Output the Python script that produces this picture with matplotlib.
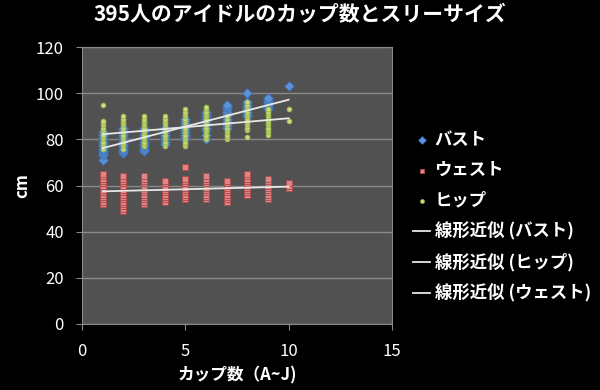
import numpy as np
import matplotlib.pyplot as plt

plt.rcParams['font.family'] = ['Noto Sans CJK JP', 'DejaVu Sans']

title = "395人のアイドルのカップ数とスリーサイズ"

# values per cup (1 = A ... 10 = J)
bust_by_cup = {
    1: [71, 73, 74, 75, 76, 77, 78, 79, 80, 81, 82, 83],
    2: [74, 75, 76, 77, 78, 79, 80, 81, 82, 83, 84, 85],
    3: [75, 76, 77, 78, 79, 80, 81, 82, 83, 84, 85],
    4: [78, 79, 80, 81, 82, 83, 84, 85],
    5: [80, 81, 82, 83, 84, 85, 86, 87, 88, 89],
    6: [80, 82, 84, 85, 86, 87, 88, 89, 90, 91, 92],
    7: [85, 86, 87, 88, 89, 90, 91, 92, 93, 94, 95],
    8: [90, 91, 92, 93, 94, 95, 96, 100],
    9: [93, 94, 95, 96, 97, 98],
    10: [103],
}

waist_by_cup = {
    1: [52, 53, 54, 55, 56, 57, 58, 59, 60, 61, 62, 63, 64, 65],
    2: [49, 50, 51, 52, 53, 54, 55, 56, 57, 58, 59, 60, 61, 62, 63, 64],
    3: [52, 53, 54, 55, 56, 57, 58, 59, 60, 61, 62, 63, 64],
    4: [53, 54, 55, 56, 57, 58, 59, 60, 61, 62],
    5: [54, 55, 56, 57, 58, 59, 60, 61, 62, 63, 68],
    6: [54, 55, 56, 57, 58, 59, 60, 61, 62, 63, 64],
    7: [53, 54, 55, 56, 57, 58, 59, 60, 61, 62],
    8: [56, 57, 58, 59, 60, 61, 62, 63, 64, 65],
    9: [54, 55, 56, 57, 58, 59, 60, 61, 62, 63],
    10: [59, 60, 61],
}

hip_by_cup = {
    1: [76, 77, 78, 79, 80, 81, 82, 83, 84, 85, 86, 87, 88, 95],
    2: [76, 77, 78, 79, 80, 81, 82, 83, 84, 85, 86, 87, 88, 89, 90],
    3: [77, 78, 79, 80, 81, 82, 83, 84, 85, 86, 87, 88, 89, 90],
    4: [77, 78, 79, 80, 81, 82, 83, 84, 85, 86, 87, 88, 89, 90],
    5: [77, 78, 79, 80, 81, 82, 83, 84, 85, 86, 87, 88, 89, 90, 91, 92, 93],
    6: [80, 81, 82, 83, 84, 85, 86, 87, 88, 89, 90, 91, 92, 93, 94],
    7: [80, 81, 82, 83, 84, 85, 86, 87, 88, 89, 90],
    8: [81, 84, 85, 86, 87, 88, 89, 90, 91, 92, 93, 94, 95, 96],
    9: [82, 83, 84, 85, 86, 87, 88, 89, 90, 91, 92, 93],
    10: [88, 93],
}


def flatten(d):
    xs, ys = [], []
    for cup, vals in d.items():
        xs += [cup] * len(vals)
        ys += vals
    return np.array(xs), np.array(ys)


bx, by = flatten(bust_by_cup)
wx, wy = flatten(waist_by_cup)
hx, hy = flatten(hip_by_cup)

fig = plt.figure(figsize=(6, 3.9), dpi=100, facecolor="black")
ax = fig.add_axes([82 / 600, 1 - 324 / 390, 310 / 600, 277 / 390])
ax.set_facecolor("#515151")

ax.yaxis.grid(True, color="#8a8a8a", lw=1)
ax.set_axisbelow(True)

p_bust = ax.scatter(bx, by, marker="D", s=24, c="#5d93d8", edgecolors="#3b6fb3", lw=0.6, zorder=3)
p_waist = ax.scatter(wx, wy, marker="s", s=18, c="#e08585", edgecolors="#a84a4a", lw=0.6, zorder=3)
p_hip = ax.scatter(hx, hy, marker="o", s=13, c="#c9dd78", edgecolors="#8fa845", lw=0.5, zorder=4)

line_x = np.array([1, 10])
trend = {}
for key, (x, y) in {"bust": (bx, by), "hip": (hx, hy), "waist": (wx, wy)}.items():
    k, b = np.polyfit(x, y, 1)
    trend[key], = ax.plot(line_x, k * line_x + b, color="#e8e8e8", lw=1.3, zorder=5)

ax.set_xlim(0, 15)
ax.set_ylim(0, 120)
ax.set_xticks([0, 5, 10, 15])
ax.set_yticks(range(0, 121, 20))
for s in ax.spines.values():
    s.set_color("#8a8a8a")
ax.tick_params(colors="#8a8a8a", labelcolor="white", labelsize=12, length=4, direction="out")
ax.tick_params(axis="y", pad=9)
ax.tick_params(axis="x", pad=10)

ax.set_xlabel("カップ数（A~J)", color="white", fontsize=12, fontweight="bold", labelpad=4)
ax.set_ylabel("cm", color="white", fontsize=12, fontweight="bold", va="center")
ax.yaxis.set_label_coords(-0.194, 0.5)

fig.suptitle(title, color="white", fontsize=15, fontweight="bold", x=0.5, y=0.99)

handles = [p_bust, p_waist, p_hip, trend["bust"], trend["hip"], trend["waist"]]
labels = ["バスト", "ウェスト", "ヒップ", "線形近似 (バスト)", "線形近似 (ヒップ)", "線形近似 (ウェスト)"]
leg = fig.legend(handles, labels, loc="upper left", bbox_to_anchor=(0.662, 0.705),
                 frameon=False, fontsize=12.5, handlelength=1.0, handletextpad=0.25,
                 labelspacing=0.72, markerscale=0.8)
for t in leg.get_texts():
    t.set_color("white")
    t.set_fontweight("bold")

fig.savefig("out.png", dpi=100, facecolor="black")
